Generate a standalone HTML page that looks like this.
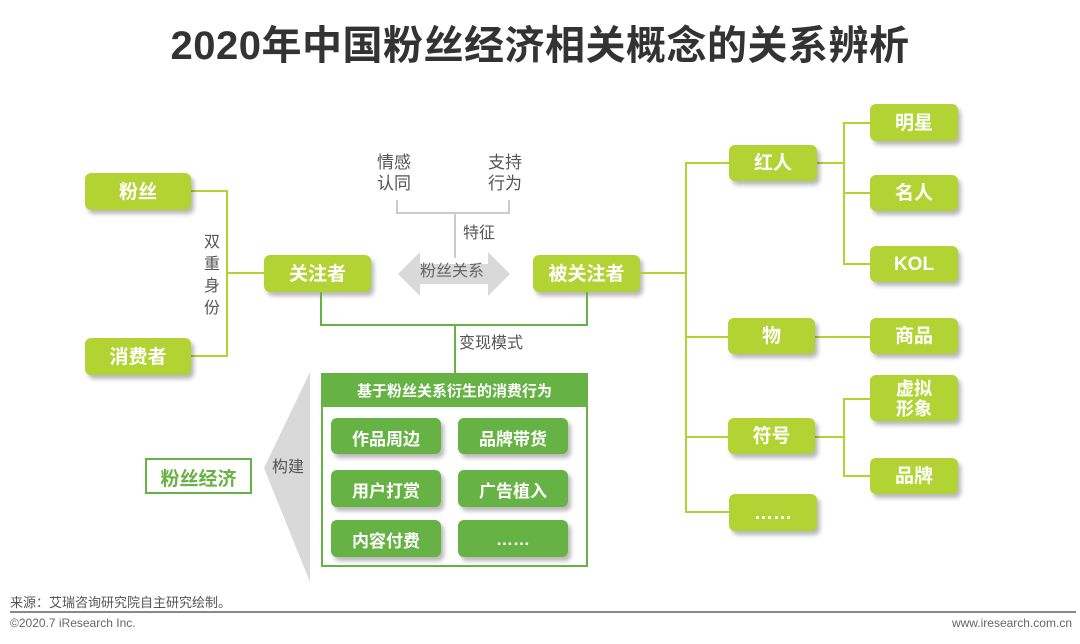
<!DOCTYPE html>
<html><head><meta charset="utf-8"><style>
*{margin:0;padding:0;box-sizing:border-box}
body{width:1080px;height:644px;background:#fff;position:relative;overflow:hidden;font-family:"Liberation Sans","Noto Sans CJK SC",sans-serif}
.a{position:absolute}
.b{position:absolute;background:#b3d334;color:#fff;font-weight:bold;font-size:19px;display:flex;align-items:center;justify-content:center;border-radius:6px;box-shadow:3px 4px 4px rgba(0,0,0,.28);line-height:1.1;text-align:center;padding-top:3px}
.g{position:absolute;background:#66b245;color:#fff;font-weight:bold;font-size:17px;display:flex;align-items:center;justify-content:center;border-radius:6px;box-shadow:3px 4px 4px rgba(0,0,0,.28);padding-top:2px}
.l{position:absolute;background:#b3d334}
.d{position:absolute;background:#66b245}
.t{position:absolute;color:#555;font-size:17px;line-height:1.25}
</style></head><body>
<div class="a" style="left:0;top:13px;width:1080px;text-align:center;font-size:40px;font-weight:bold;color:#333;letter-spacing:0.5px">2020年中国粉丝经济相关概念的关系辨析</div>

<!-- left -->
<div class="l" style="left:190px;top:190px;width:38px;height:2px"></div>
<div class="l" style="left:190px;top:355px;width:38px;height:2px"></div>
<div class="l" style="left:226px;top:190px;width:2px;height:167px"></div>
<div class="l" style="left:226px;top:272px;width:40px;height:2px"></div>
<div class="b" style="left:85px;top:173px;width:106px;height:37px">粉丝</div>
<div class="b" style="left:85px;top:338px;width:106px;height:37px">消费者</div>
<div class="t" style="left:204px;top:232px;width:20px;font-size:16px;line-height:22px">双重身份</div>
<div class="b" style="left:264px;top:255px;width:107px;height:37px">关注者</div>
<div class="b" style="left:533px;top:255px;width:107px;height:37px">被关注者</div>

<!-- top bracket -->
<div class="t" style="left:377px;top:152px">情感<br>认同</div>
<div class="t" style="left:488px;top:152px">支持<br>行为</div>
<div class="a" style="left:396px;top:200px;width:2px;height:13px;background:#ccc"></div>
<div class="a" style="left:508px;top:200px;width:2px;height:13px;background:#ccc"></div>
<div class="a" style="left:396px;top:212px;width:114px;height:2px;background:#ccc"></div>
<div class="a" style="left:454px;top:212px;width:2px;height:46px;background:#ccc"></div>
<div class="t" style="left:463px;top:224px;font-size:16px">特征</div>
<svg class="a" style="left:398px;top:252px" width="112" height="44"><polygon points="0,22 22,0 22,12 90,12 90,0 112,22 90,44 90,32 22,32 22,44" fill="#d9d9d9"/></svg>
<div class="t" style="left:420px;top:262px;font-size:16px;color:#666">粉丝关系</div>

<!-- bottom connector -->
<div class="d" style="left:320px;top:292px;width:2px;height:34px"></div>
<div class="d" style="left:586px;top:292px;width:2px;height:34px"></div>
<div class="d" style="left:320px;top:324px;width:268px;height:2px"></div>
<div class="d" style="left:454px;top:324px;width:2px;height:50px"></div>
<div class="t" style="left:459px;top:334px;font-size:16px">变现模式</div>

<!-- big box -->
<div class="a" style="left:321px;top:373px;width:267px;height:194px;border:2px solid #66b245"></div>
<div class="d" style="left:321px;top:373px;width:267px;height:34px;color:#fff;font-weight:bold;font-size:15px;display:flex;align-items:center;justify-content:center">基于粉丝关系衍生的消费行为</div>
<div class="g" style="left:331px;top:418px;width:110px;height:36px">作品周边</div>
<div class="g" style="left:458px;top:418px;width:110px;height:36px">品牌带货</div>
<div class="g" style="left:331px;top:470px;width:110px;height:37px">用户打赏</div>
<div class="g" style="left:458px;top:470px;width:110px;height:37px">广告植入</div>
<div class="g" style="left:331px;top:520px;width:110px;height:37px">内容付费</div>
<div class="g" style="left:458px;top:520px;width:110px;height:37px">……</div>

<svg class="a" style="left:264px;top:372px" width="48" height="210"><polygon points="46,0 46,210 0,96" fill="#d9d9d9"/></svg>
<div class="t" style="left:272px;top:458px;font-size:16px">构建</div>
<div class="a" style="left:145px;top:458px;width:107px;height:36px;border:2px solid #66b245;color:#66b245;font-weight:bold;font-size:19px;display:flex;align-items:center;justify-content:center;padding-top:2px">粉丝经济</div>

<!-- right tree -->
<div class="l" style="left:640px;top:272px;width:47px;height:2px"></div>
<div class="l" style="left:685px;top:162px;width:2px;height:350px"></div>
<div class="l" style="left:685px;top:162px;width:44px;height:2px"></div>
<div class="l" style="left:685px;top:336px;width:44px;height:2px"></div>
<div class="l" style="left:685px;top:436px;width:44px;height:2px"></div>
<div class="l" style="left:685px;top:511px;width:44px;height:2px"></div>
<div class="l" style="left:815px;top:162px;width:30px;height:2px"></div>
<div class="l" style="left:843px;top:122px;width:2px;height:142px"></div>
<div class="l" style="left:843px;top:122px;width:28px;height:2px"></div>
<div class="l" style="left:843px;top:192px;width:28px;height:2px"></div>
<div class="l" style="left:843px;top:263px;width:28px;height:2px"></div>
<div class="l" style="left:815px;top:336px;width:56px;height:2px"></div>
<div class="l" style="left:815px;top:436px;width:30px;height:2px"></div>
<div class="l" style="left:843px;top:398px;width:2px;height:78px"></div>
<div class="l" style="left:843px;top:398px;width:28px;height:2px"></div>
<div class="l" style="left:843px;top:475px;width:28px;height:2px"></div>

<div class="b" style="left:729px;top:145px;width:88px;height:36px">红人</div>
<div class="b" style="left:728px;top:318px;width:87px;height:36px">物</div>
<div class="b" style="left:728px;top:418px;width:87px;height:36px">符号</div>
<div class="b" style="left:729px;top:494px;width:88px;height:37px">……</div>
<div class="b" style="left:870px;top:104px;width:88px;height:37px">明星</div>
<div class="b" style="left:870px;top:175px;width:88px;height:36px">名人</div>
<div class="b" style="left:870px;top:246px;width:88px;height:36px">KOL</div>
<div class="b" style="left:870px;top:318px;width:88px;height:36px">商品</div>
<div class="b" style="left:870px;top:375px;width:88px;height:46px;font-size:18px">虚拟<br>形象</div>
<div class="b" style="left:870px;top:458px;width:88px;height:36px">品牌</div>

<!-- footer -->
<div class="a" style="left:10px;top:592px;font-size:13px;color:#555">来源：艾瑞咨询研究院自主研究绘制。</div>
<div class="a" style="left:10px;top:611px;width:1066px;height:2px;background:#888"></div>
<div class="a" style="left:10px;top:616px;font-size:12px;color:#666">©2020.7 iResearch Inc.</div>
<div class="a" style="right:8px;top:616px;font-size:12px;color:#666">www.iresearch.com.cn</div>
</body></html>
